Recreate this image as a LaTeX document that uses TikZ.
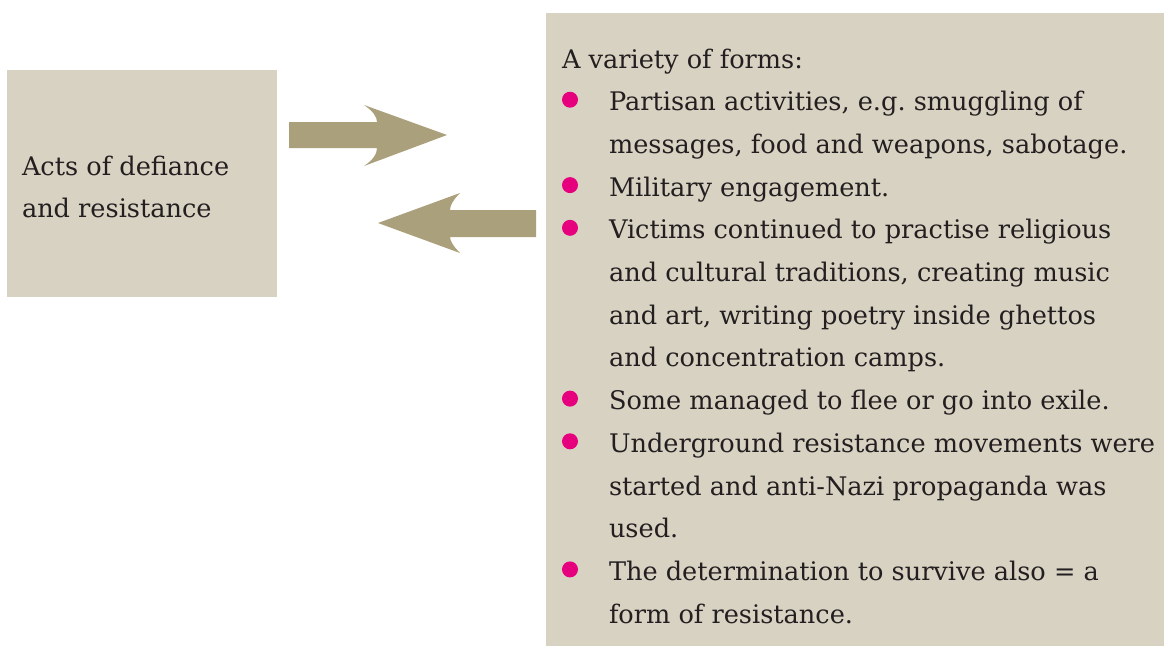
\documentclass[tikz,border=0pt]{standalone}
\usepackage{fontspec}
\setmainfont{DejaVu Serif}
\definecolor{boxfill}{HTML}{D8D2C2}
\definecolor{arrowfill}{HTML}{ABA07C}
\definecolor{bulletc}{HTML}{E6007E}
\definecolor{textc}{HTML}{231F20}
\frenchspacing
\begin{document}
\begin{tikzpicture}[x=1pt,y=-1pt,
  txt/.style={anchor=base west,inner sep=0pt,outer sep=0pt,text=textc,font=\fontsize{25.6}{30}\selectfont\frenchspacing},
  bul/.style={circle,fill=bulletc,minimum size=16pt,inner sep=0pt},
  blockarrow/.style={fill=arrowfill,draw=none}]
\useasboundingbox (0,0) rectangle (1164,646);
\fill[white] (0,0) rectangle (1164,646);
% boxes
\node[fill=boxfill,minimum width=270pt,minimum height=227pt,inner sep=0pt,anchor=north west] (lbox) at (7,70) {};
\node[fill=boxfill,minimum width=618pt,minimum height=633pt,inner sep=0pt,anchor=north west] (rbox) at (546,13) {};
% arrows
\fill[blockarrow] (289,122) -- (377,122) .. controls (377,117) and (373,111) .. (364,105) -- (447,135) -- (364,166) .. controls (373,160) and (377,154) .. (377,148) -- (289,148) -- cycle;
\fill[blockarrow] (536,210) -- (450,210) .. controls (450,205) and (454,199) .. (460,193) -- (378,223) -- (460,253) .. controls (454,247) and (450,241) .. (450,237) -- (536,237) -- cycle;
% left text
\node[txt] (l1) at (22,175) {Acts of defiance};
\node[txt] (l2) at (22,217) {and resistance};
% right text
\node[txt] (r0) at (562,68) {A variety of forms:};
\node[txt] (r1) at (609,110.7) {Partisan activities, e.g. smuggling of};
\node[txt] (r2) at (609,153.4) {messages, food and weapons, sabotage.};
\node[txt] (r3) at (609,196.1) {Military engagement.};
\node[txt] (r4) at (609,238.8) {Victims continued to practise religious};
\node[txt] (r5) at (609,281.5) {and cultural traditions, creating music};
\node[txt] (r6) at (609,324.2) {and art, writing poetry inside ghettos};
\node[txt] (r7) at (609,366.9) {and concentration camps.};
\node[txt] (r8) at (609,409.6) {Some managed to flee or go into exile.};
\node[txt] (r9) at (609,452.3) {Underground resistance movements were};
\node[txt] (r10) at (609,495.0) {started and anti-Nazi propaganda was};
\node[txt] (r11) at (609,537.7) {used.};
\node[txt] (r12) at (609,580.4) {The determination to survive also = a};
\node[txt] (r13) at (609,623.1) {form of resistance.};
% bullets
\foreach \n/\y in {b1/110.7,b2/196.1,b3/238.8,b4/409.6,b5/452.3,b6/580.4}
  \node[bul] (\n) at (570,\y-11) {};
\end{tikzpicture}
\end{document}
